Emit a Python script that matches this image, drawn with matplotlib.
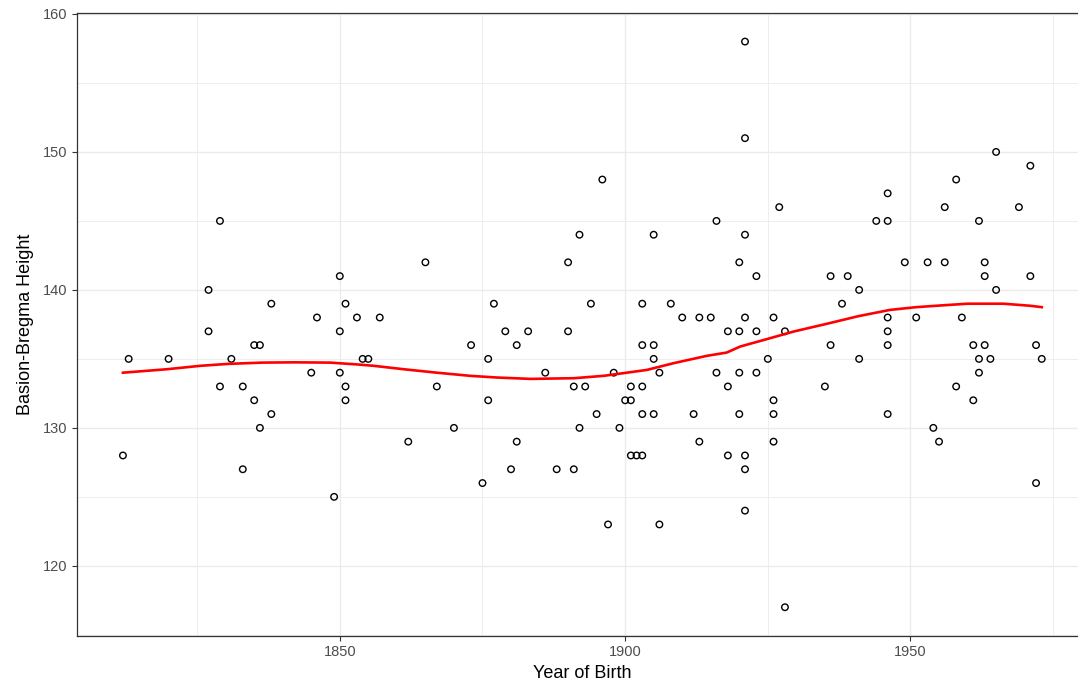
import matplotlib
matplotlib.use('Agg')
from matplotlib import pyplot as plt
from matplotlib.ticker import MultipleLocator

plt.rcParams['font.family'] = ['Liberation Sans', 'DejaVu Sans']

# year of birth / basion-bregma height
year = [1812, 1813, 1820, 1827, 1827, 1829, 1829, 1831, 1833, 1833,
        1835, 1835, 1836, 1836, 1838, 1838, 1845, 1846, 1849, 1850,
        1850, 1850, 1851, 1851, 1851, 1853, 1854, 1855, 1857, 1862,
        1865, 1867, 1870, 1873, 1875, 1876, 1876, 1877, 1879, 1880,
        1881, 1881, 1883, 1886, 1888, 1890, 1890, 1891, 1891, 1892,
        1892, 1893, 1894, 1895, 1896, 1897, 1898, 1899, 1900, 1901,
        1901, 1901, 1902, 1903, 1903, 1903, 1903, 1903, 1905, 1905,
        1905, 1905, 1906, 1906, 1908, 1910, 1912, 1913, 1913, 1915,
        1916, 1916, 1918, 1918, 1918, 1920, 1920, 1920, 1920, 1921,
        1921, 1921, 1921, 1921, 1921, 1921, 1923, 1923, 1923, 1925,
        1926, 1926, 1926, 1926, 1927, 1928, 1928, 1935, 1936, 1936,
        1938, 1939, 1941, 1941, 1944, 1946, 1946, 1946, 1946, 1946,
        1946, 1949, 1951, 1953, 1954, 1955, 1956, 1956, 1958, 1958,
        1959, 1961, 1961, 1962, 1962, 1962, 1963, 1963, 1963, 1964,
        1965, 1965, 1969, 1971, 1971, 1972, 1972, 1973]
height = [128, 135, 135, 140, 137, 145, 133, 135, 133, 127,
          136, 132, 136, 130, 139, 131, 134, 138, 125, 141,
          137, 134, 139, 133, 132, 138, 135, 135, 138, 129,
          142, 133, 130, 136, 126, 135, 132, 139, 137, 127,
          136, 129, 137, 134, 127, 142, 137, 133, 127, 144,
          130, 133, 139, 131, 148, 123, 134, 130, 132, 133,
          132, 128, 128, 139, 136, 133, 131, 128, 144, 136,
          135, 131, 134, 123, 139, 138, 131, 138, 129, 138,
          145, 134, 137, 133, 128, 142, 137, 134, 131, 158,
          151, 144, 138, 128, 127, 124, 141, 137, 134, 135,
          138, 132, 131, 129, 146, 137, 117, 133, 141, 136,
          139, 141, 140, 135, 145, 147, 145, 138, 137, 136,
          131, 142, 138, 142, 130, 129, 146, 142, 148, 133,
          138, 136, 132, 145, 135, 134, 142, 141, 136, 135,
          150, 140, 146, 149, 141, 136, 126, 135]

# loess curve
smooth_year = [1812, 1819.7, 1825.6, 1830.5, 1836.4, 1842, 1848.3, 1853,
               1855.9, 1861.2, 1867, 1872.9, 1877.5, 1883.4, 1891, 1896.2,
               1900.3, 1903.8, 1908.5, 1914.3, 1917.8, 1920.2, 1924.8,
               1929.5, 1935.3, 1940.9, 1946.4, 1951, 1955.2, 1960, 1966.3,
               1971, 1973]
smooth_val = [134.0, 134.25, 134.5, 134.64, 134.73, 134.75, 134.73, 134.6,
              134.5, 134.25, 134.0, 133.77, 133.65, 133.55, 133.6, 133.77,
              134.0, 134.2, 134.69, 135.22, 135.46, 135.9, 136.43,
              136.98, 137.54, 138.1, 138.55, 138.75, 138.87, 139.0, 139.0,
              138.85, 138.75]

fig = plt.figure(figsize=(10.78, 6.89), dpi=100)
ax = fig.add_axes([77 / 1078, 1 - 635.5 / 689, (1087.7 - 77) / 1078, (635.5 - 13.3) / 689])

ax.scatter(year, height, s=22, facecolors='none', edgecolors='black', linewidths=1.0, zorder=3)
ax.plot(smooth_year, smooth_val, color='#FF0000', linewidth=1.9, zorder=4)

ax.set_xlim(1803.95, 1981.05)
ax.set_ylim(114.95, 160.05)
ax.xaxis.set_major_locator(MultipleLocator(50))
ax.xaxis.set_minor_locator(MultipleLocator(25))
ax.yaxis.set_major_locator(MultipleLocator(10))
ax.yaxis.set_minor_locator(MultipleLocator(5))
ax.grid(which='major', color='#EBEBEB', linewidth=1.0)
ax.grid(which='minor', color='#EBEBEB', linewidth=0.6)
ax.set_axisbelow(True)

for s in ['left', 'bottom', 'top']:
    ax.spines[s].set_color('#333333')
    ax.spines[s].set_linewidth(0.9)
ax.spines['right'].set_visible(False)

ax.tick_params(which='major', length=3.5, width=0.8, color='#333333',
               labelcolor='#4D4D4D', labelsize=10.5)
ax.tick_params(which='minor', length=0)

ax.set_xlabel('Year of Birth', fontsize=13, color='black', labelpad=4)
ax.set_ylabel('Basion-Bregma Height', fontsize=13, color='black', labelpad=6)

fig.savefig('out.png', dpi=100)
